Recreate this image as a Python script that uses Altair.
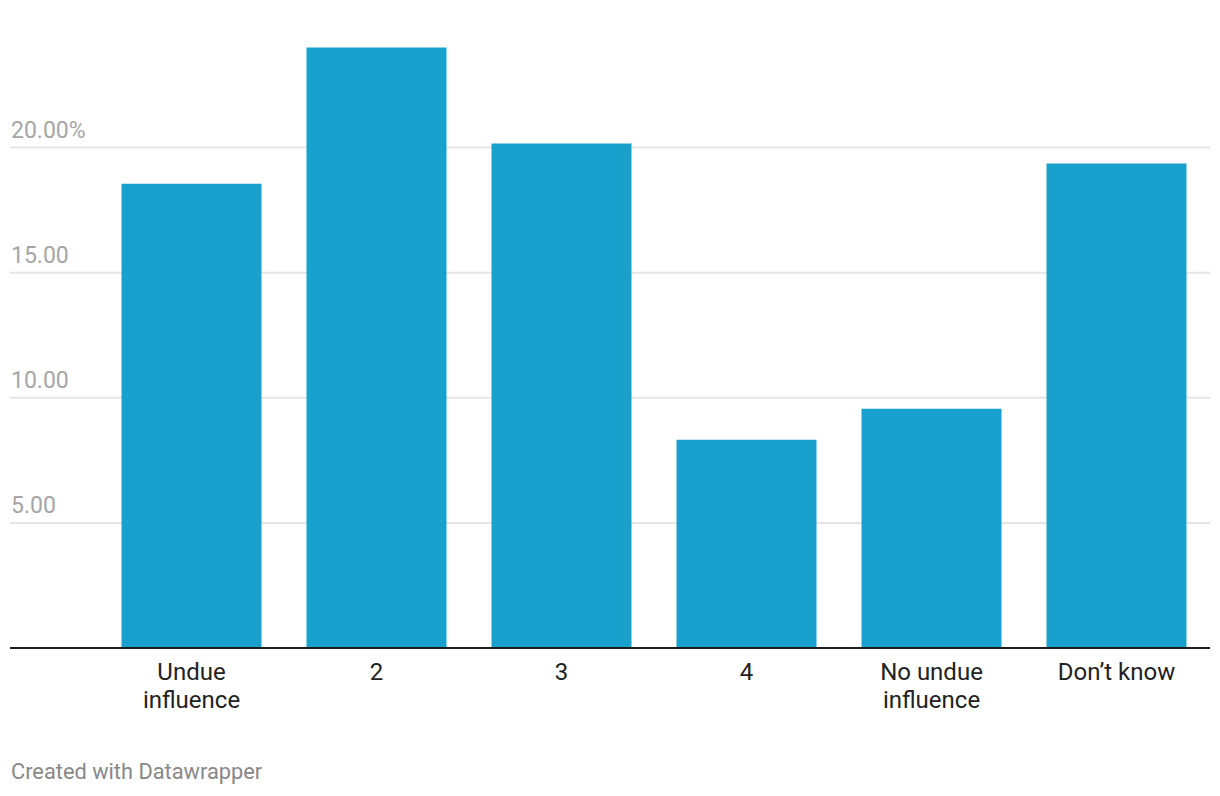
import altair as alt
import pandas as pd

categories = ["Undue\ninfluence", "2", "3", "4", "No undue\ninfluence", "Don’t know"]
values = [18.56, 24.0, 20.16, 8.32, 9.56, 19.36]
tick_values = [5, 10, 15, 20]
tick_labels = ["5.00", "10.00", "15.00", "20.00%"]
credit = "Created with Datawrapper"

W = 1200
H = 638
FONT = "Roboto"

bars_df = pd.DataFrame({"cat": categories, "value": values})
ticks_df = pd.DataFrame({"v": tick_values, "label": tick_labels})

x_enc = alt.X("cat:N", sort=categories, axis=None,
              scale=alt.Scale(range=[89, 1199], paddingInner=0.2432, paddingOuter=0.1216))
y_scale = alt.Scale(domain=[0, 25.5], nice=False, zero=True)

grid = alt.Chart(ticks_df).mark_rule(color="#e5e5e5", strokeWidth=2).encode(
    y=alt.Y("v:Q", scale=y_scale, axis=None),
    x=alt.value(0), x2=alt.value(W),
)

tick_text = alt.Chart(ticks_df).mark_text(
    align="left", baseline="alphabetic", dy=-10, font=FONT, fontSize=23, color="#a6a6a6"
).encode(
    y=alt.Y("v:Q", scale=y_scale, axis=None),
    x=alt.value(1),
    text="label:N",
)

bars = alt.Chart(bars_df).mark_bar(color="#18a1cd").encode(
    x=x_enc,
    y=alt.Y("value:Q", scale=y_scale, axis=None),
)

baseline = alt.Chart(pd.DataFrame({"v": [0]})).mark_rule(color="#1d1d1d", strokeWidth=2).encode(
    y=alt.Y("v:Q", scale=y_scale, axis=None),
    x=alt.value(0), x2=alt.value(W),
)

xlabels = alt.Chart(bars_df).mark_text(
    align="center", baseline="alphabetic", lineBreak="\n", lineHeight=28,
    font=FONT, fontSize=24, color="#222222"
).encode(
    x=x_enc,
    y=alt.value(H + 32),
    text="cat:N",
)

credit_text = alt.Chart(pd.DataFrame({"t": [credit]})).mark_text(
    align="left", baseline="alphabetic", font=FONT, fontSize=21.8, color="#888888"
).encode(
    x=alt.value(1),
    y=alt.value(H + 131),
    text="t:N",
)

chart = alt.layer(grid, tick_text, bars, baseline, xlabels, credit_text).properties(
    width=W, height=H,
    autosize=alt.AutoSizeParams(type="none"),
    padding={"left": 2, "top": 2, "right": 2, "bottom": 146},
).configure_view(stroke=None)

chart.save("out.html", embed_options={"renderer": "svg", "actions": False})
